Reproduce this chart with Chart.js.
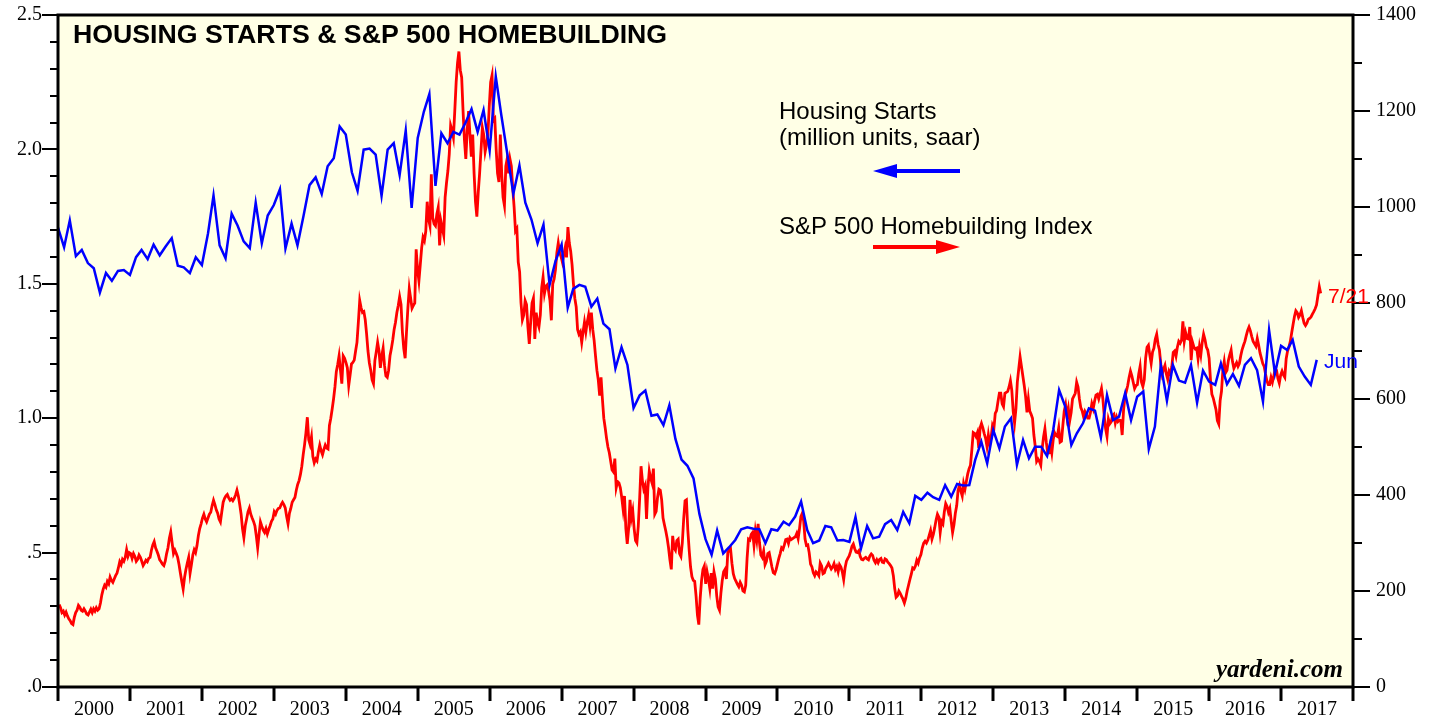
<!DOCTYPE html>
<html><head><meta charset="utf-8">
<script src="https://cdn.jsdelivr.net/npm/chart.js@4.4.1/dist/chart.umd.min.js"></script>
<style>html,body{margin:0;padding:0;background:#fff;}canvas{display:block}</style>
</head><body>
<canvas id="c" width="1435" height="719"></canvas>
<script>
// ---------------- DATA ----------------
// Housing starts, million units saar, monthly, first observation Dec 1999 (plotted at month end)
const startsFirst = {year: 1999, month: 12};
const housingStarts = [
1.709,1.636,1.736,1.603,1.626,1.577,1.558,1.467,1.540,1.511,1.548,1.551,1.533,1.599,1.626,1.592,1.646,1.606,1.639,1.670,1.567,1.561,1.540,1.599,1.570,1.687,1.829,1.643,1.595,1.761,1.717,1.658,1.633,1.802,1.651,1.754,1.793,
1.852,1.631,1.724,1.643,1.754,1.867,1.896,1.834,1.937,1.967,2.085,2.055,1.915,1.846,1.999,2.003,1.981,1.827,1.999,2.023,1.905,2.070,1.782,2.043,2.140,2.206,1.864,2.060,2.023,2.065,2.055,2.100,2.150,2.065,2.146,
1.996,2.271,2.128,1.981,1.834,1.940,1.802,1.739,1.651,1.720,1.496,1.584,1.646,1.411,1.481,1.496,1.489,1.415,1.445,1.352,1.331,1.185,1.264,1.198,1.038,1.085,1.103,1.009,1.014,0.974,1.048,0.923,0.846,0.823,0.776,0.644,0.550,
0.492,0.582,0.497,0.520,0.547,0.587,0.594,0.589,0.587,0.535,0.587,0.582,0.615,0.602,0.634,0.690,0.584,0.535,0.545,0.599,0.594,0.545,0.547,0.540,0.632,0.516,0.599,0.553,0.559,0.606,0.621,0.584,0.651,0.609,0.711,
0.696,0.723,0.706,0.696,0.751,0.708,0.755,0.750,0.751,0.845,0.913,0.832,0.956,0.888,0.969,1.000,0.826,0.919,0.851,0.894,0.894,0.859,0.956,1.105,1.043,0.900,0.944,0.981,1.037,1.028,0.928,1.086,0.993,1.006,1.093,0.993,
1.080,1.099,0.885,0.969,1.198,1.065,1.198,1.140,1.132,1.198,1.058,1.177,1.136,1.124,1.204,1.127,1.164,1.120,1.198,1.223,1.179,1.062,1.328,1.167,1.269,1.254,1.291,1.192,1.155,1.124,1.217
];
// S&P 500 Homebuilding index, weekly (Fridays), first observation 2000-01-07, last 2017-07-21
const homebuildFirst = {year: 2000, month: 1, day: 7};
const homebuilding = [
172,165,155,158,150,156,148,142,138,132,
130,145,155,160,170,166,160,158,163,158,
152,150,156,162,155,163,158,165,160,163,
175,192,204,212,208,220,215,229,222,218,
225,232,237,248,261,255,266,262,270,286,
272,280,278,268,278,272,262,266,275,270,
262,253,258,264,261,268,270,285,296,303,
290,283,275,265,261,256,253,262,278,290,
310,323,300,278,285,278,270,255,237,220,
204,228,245,258,270,237,255,275,286,280,
294,315,330,340,352,360,350,344,352,360,
364,378,389,380,369,362,350,344,365,385,
393,398,401,394,389,392,388,393,400,410,
398,380,360,330,311,336,350,365,373,360,
352,345,336,315,290,318,344,335,327,322,
330,319,328,336,345,350,365,
360,368,372,373,380,385,380,373,355,340,
362,372,385,390,395,410,422,430,443,460,
484,505,530,562,515,505,521,480,467,475,
471,490,504,492,484,495,504,498,496,545,
560,579,600,625,657,672,690,660,632,690,
685,676,665,628,650,673,676,681,700,718,
760,805,790,780,782,765,735,700,675,660,
640,632,680,698,718,700,665,690,706,670,
648,645,660,690,705,723,745,760,780,795,
813,797,740,705,685,740,790,830,810,789,
795,800,912,870,846,880,915,937,930,950,
1011,975,961,1068,978,965,961,985,999,920,
970,955,941,1020,1050,1075,1110,1170,1160,1145,
1200,1260,1300,1324,1285,1270,1200,1140,1100,1160,
1200,1150,1105,1151,1070,1011,980,1030,1070,1118,
1165,1150,1115,1130,1151,1210,1260,1274,1180,
1184,1120,1070,1052,1151,1070,1020,1003,1085,1101,
1070,1100,1085,1040,1000,950,955,885,865,800,
765,775,805,797,750,715,760,800,810,725,
780,760,750,775,832,854,820,835,838,825,
805,764,840,850,870,905,925,905,897,885,
900,915,895,958,925,908,880,840,810,792,
745,735,740,718,740,760,740,760,775,752,
780,745,722,690,660,640,607,645,600,560,
540,518,500,488,470,452,448,476,415,428,
425,415,395,370,398,330,298,330,390,352,
367,330,305,300,335,393,460,430,412,420,
350,415,450,435,425,455,360,366,395,412,
410,390,352,338,325,310,290,265,245,315,
290,285,305,308,278,272,300,350,388,390,
327,285,250,230,222,220,190,150,130,185,
222,245,252,
215,240,225,205,237,205,240,225,190,167,
160,195,222,240,245,225,280,285,288,258,
236,226,220,214,209,218,212,200,198,212,
268,308,306,318,322,295,325,306,340,300,
275,270,283,255,262,278,280,265,250,238,
236,244,256,268,278,290,287,296,307,308,
299,311,307,309,311,313,320,309,330,355,
362,346,308,295,296,280,256,250,238,232,
240,237,232,258,252,236,238,247,252,258,
252,246,250,257,245,251,240,255,250,240,
224,248,262,268,273,282,293,298,288,281,
280,284,272,266,265,268,270,267,265,273,
277,274,264,259,265,259,266,268,260,259,
267,265,260,257,253,248,232,205,187,190,
200,195,189,183,175,185,200,212,224,235,
248,246,252,264,258,269,276,290,300,
304,300,306,316,326,308,318,332,348,360,
354,322,345,340,365,382,376,364,372,345,
322,338,362,378,410,420,408,398,424,412,
428,444,455,462,494,530,528,522,530,498,
540,549,540,528,518,501,525,505,520,545,
538,570,576,595,612,612,590,584,612,614,
616,625,638,618,575,550,580,635,662,688,
668,648,628,605,572,600,575,568,560,525,
501,470,475,470,462,496,521,538,510,488,
488,506,488,515,530,524,522,540,510,512,
545,575,588,563,580,555,572,600,606,612,
635,625,600,582,575,563,574,568,560,560,
572,590,580,596,608,610,600,611,622,600,
565,538,522,558,548,552,565,568,550,562,
553,556,555,525,577,605,616,628,645,658,
648,635,622,628,
630,652,668,635,626,640,685,708,712,692,
674,698,706,725,735,714,702,672,652,662,
670,652,641,658,652,668,697,700,689,708,
720,716,722,762,720,738,726,725,750,681,
718,708,704,706,684,709,692,718,735,724,
708,702,685,640,610,602,590,578,555,548,
596,616,660,678,655,660,680,692,702,678,
664,670,676,668,674,690,703,712,720,732,
743,750,742,730,720,715,710,726,712,696,
685,674,668,652,638,630,630,645,635,648,
662,660,643,633,650,658,650,645,684,700,
708,720,738,755,772,784,780,770,775,784,
770,758,753,758,766,768,771,777,782,788,
796,815,834,820
];
const yearLabels = ['2000','2001','2002','2003','2004','2005','2006','2007','2008','2009','2010','2011','2012','2013','2014','2015','2016','2017'];
const leftTickValues = [0, 0.5, 1.0, 1.5, 2.0, 2.5];
const leftTickLabels = ['.0', '.5', '1.0', '1.5', '2.0', '2.5'];
const rightTickValues = [0, 200, 400, 600, 800, 1000, 1200, 1400];
const rightTickLabels = ['0', '200', '400', '600', '800', '1000', '1200', '1400'];

// ---------------- helpers ----------------
function yearFrac(d) {
  const y = d.getUTCFullYear();
  const s = Date.UTC(y, 0, 1), e = Date.UTC(y + 1, 0, 1);
  return y + (d.getTime() - s) / (e - s);
}
const startsPts = housingStarts.map((v, i) => {
  const mEnd = new Date(Date.UTC(startsFirst.year, startsFirst.month + i, 1)); // end of that month
  return {x: yearFrac(mEnd), y: v};
});
const hbPts = homebuilding.map((v, i) => {
  const d = new Date(Date.UTC(homebuildFirst.year, homebuildFirst.month - 1, homebuildFirst.day + 7 * i));
  return {x: yearFrac(d), y: v};
});

const SERIF = '"Liberation Serif", "Times New Roman", serif';
const SANS = '"Liberation Sans", Arial, Helvetica, sans-serif';

const noPad = s => { s.paddingTop = 0; s.paddingBottom = 0; s.paddingLeft = 0; s.paddingRight = 0; };

const decor = {
  id: 'decor',
  beforeDraw(chart) {
    const {ctx, chartArea: a} = chart;
    ctx.save();
    ctx.fillStyle = '#FFFFE6';
    ctx.fillRect(a.left, a.top, a.right - a.left, a.bottom - a.top);
    ctx.restore();
  },
  afterDraw(chart) {
    const {ctx, chartArea: a, scales} = chart;
    const line = (x1, y1, x2, y2) => { ctx.beginPath(); ctx.moveTo(x1, y1); ctx.lineTo(x2, y2); ctx.stroke(); };
    ctx.save();
    ctx.strokeStyle = '#000';
    ctx.lineCap = 'butt';
    // left ticks (every 0.1, major every 0.5)
    ctx.lineWidth = 2;
    for (let k = 0; k <= 25; k++) {
      const py = Math.round(scales.y.getPixelForValue(k / 10));
      const len = k % 5 === 0 ? 16 : 8;
      line(a.left - len, py, a.left, py);
    }
    // right ticks (every 100, major every 200)
    for (let k = 0; k <= 14; k++) {
      const py = Math.round(scales.y2.getPixelForValue(k * 100));
      const len = k % 2 === 0 ? 17 : 9;
      line(a.right, py, a.right + len, py);
    }
    // year boundary ticks
    ctx.lineWidth = 3;
    for (let yr = 2000; yr <= 2018; yr++) {
      const px = Math.round(scales.x.getPixelForValue(yr));
      line(px, a.bottom, px, a.bottom + 14);
    }
    // frame
    ctx.lineWidth = 3;
    ctx.strokeRect(a.left, a.top, a.right - a.left, a.bottom - a.top);

    // title
    ctx.fillStyle = '#000';
    ctx.textBaseline = 'alphabetic';
    ctx.textAlign = 'left';
    ctx.font = 'bold 26.7px ' + SANS;
    ctx.fillText('HOUSING STARTS & S&P 500 HOMEBUILDING', 73, 43);
    // legend
    ctx.font = '24px ' + SANS;
    ctx.fillText('Housing Starts', 779, 119);
    ctx.fillText('(million units, saar)', 779, 145);
    ctx.fillText('S&P 500 Homebuilding Index', 779, 234);
    // arrows
    ctx.lineWidth = 4;
    ctx.strokeStyle = '#0000FF'; ctx.fillStyle = '#0000FF';
    line(890, 171, 960, 171);
    ctx.beginPath(); ctx.moveTo(873, 171); ctx.lineTo(897, 164); ctx.lineTo(897, 178); ctx.closePath(); ctx.fill();
    ctx.strokeStyle = '#FF0000'; ctx.fillStyle = '#FF0000';
    line(873, 247, 945, 247);
    ctx.beginPath(); ctx.moveTo(960, 247); ctx.lineTo(936, 240); ctx.lineTo(936, 254); ctx.closePath(); ctx.fill();
    // end labels
    ctx.font = '21px ' + SANS;
    ctx.fillStyle = '#FF0000';
    ctx.fillText('7/21', 1328, 303);
    ctx.fillStyle = '#0000FF';
    ctx.fillText('Jun', 1324, 368);
    // source
    ctx.fillStyle = '#000';
    ctx.textAlign = 'right';
    ctx.font = 'italic bold 25px ' + SERIF;
    ctx.fillText('yardeni.com', 1343, 677);
    ctx.restore();
  }
};

new Chart(document.getElementById('c'), {
  type: 'line',
  data: {
    datasets: [
      {label: 'Housing Starts', data: startsPts, yAxisID: 'y', borderColor: '#0000FF', borderWidth: 2.5,
       pointRadius: 0, tension: 0, fill: false, order: 0},
      {label: 'S&P 500 Homebuilding Index', data: hbPts, yAxisID: 'y2', borderColor: '#FF0000', borderWidth: 2.8,
       pointRadius: 0, tension: 0, fill: false, order: 1}
    ]
  },
  options: {
    responsive: false, animation: false, devicePixelRatio: 1, parsing: false,
    layout: {padding: {top: 15, left: 0, right: 0, bottom: 0}},
    plugins: {legend: {display: false}, tooltip: {enabled: false}, title: {display: false}},
    scales: {
      x: {
        type: 'linear', position: 'bottom', min: 2000, max: 2018,
        grid: {display: false, drawTicks: false, tickLength: 0}, border: {display: false},
        afterBuildTicks: s => { s.ticks = yearLabels.map((l, i) => ({value: 2000.5 + i})); },
        afterFit: s => { s.height = 32; noPad(s); },
        ticks: {autoSkip: false, maxRotation: 0, minRotation: 0, padding: 11, color: '#000',
          font: {family: SERIF, size: 20}, callback: (v, i) => yearLabels[i]}
      },
      y: {
        type: 'linear', position: 'left', min: 0, max: 2.5,
        grid: {display: false, drawTicks: false, tickLength: 0}, border: {display: false},
        afterBuildTicks: s => { s.ticks = leftTickValues.map(v => ({value: v})); },
        afterFit: s => { s.width = 58; noPad(s); },
        ticks: {padding: 16, color: '#000', font: {family: SERIF, size: 20}, callback: (v, i) => leftTickLabels[i]}
      },
      y2: {
        type: 'linear', position: 'right', min: 0, max: 1400,
        grid: {display: false, drawTicks: false, tickLength: 0}, border: {display: false},
        afterBuildTicks: s => { s.ticks = rightTickValues.map(v => ({value: v})); },
        afterFit: s => { s.width = 82; noPad(s); },
        ticks: {padding: 23, color: '#000', font: {family: SERIF, size: 20}, callback: (v, i) => rightTickLabels[i]}
      }
    }
  },
  plugins: [decor]
});
</script>
</body></html>
